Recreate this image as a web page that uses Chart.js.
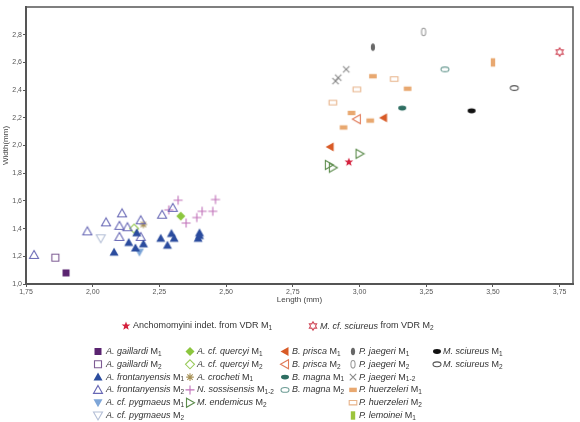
<!DOCTYPE html>
<html>
<head>
<meta charset="utf-8">
<script src="https://cdn.jsdelivr.net/npm/chart.js@4.4.1/dist/chart.umd.min.js"></script>
<style>
  html, body { margin: 0; padding: 0; background: #fff; }
  canvas { display: block; }
</style>
</head>
<body>
<canvas id="chart" width="580" height="422"></canvas>
<script>
// tick labels
const X_TICKS = [1.75, 2.00, 2.25, 2.50, 2.75, 3.00, 3.25, 3.50, 3.75];
const Y_TICKS = [1.0, 1.2, 1.4, 1.6, 1.8, 2.0, 2.2, 2.4, 2.6, 2.8];

// [length, width] in mm
const GAILLARDI_M1 = [[1.90, 1.08]];
const GAILLARDI_M2 = [[1.86, 1.19]];
const FRONTANYENSIS_M1 = [[2.08, 1.23], [2.135, 1.30], [2.16, 1.26], [2.165, 1.37], [2.19, 1.29], [2.255, 1.33],
                          [2.28, 1.28], [2.295, 1.365], [2.305, 1.33], [2.395, 1.33], [2.40, 1.37], [2.40, 1.35]];
const FRONTANYENSIS_M2 = [[1.78, 1.21], [1.98, 1.38], [2.05, 1.445], [2.11, 1.51], [2.10, 1.42], [2.13, 1.41],
                          [2.10, 1.34], [2.18, 1.46], [2.26, 1.50], [2.30, 1.55], [2.18, 1.34]];
const PYGMAEUS_M1 = [[2.175, 1.23]];
const PYGMAEUS_M2 = [[2.03, 1.33]];
const QUERCYI_M1 = [[2.33, 1.49]];
const QUERCYI_M2 = [[2.155, 1.40]];
const CROCHETI_M1 = [[2.19, 1.43]];
const SOSSISENSIS_M12 = [[2.285, 1.535], [2.32, 1.605], [2.35, 1.44], [2.39, 1.48], [2.41, 1.525], [2.45, 1.525], [2.46, 1.61]];
const ENDEMICUS_M2 = [[3.00, 1.94], [2.885, 1.86], [2.90, 1.84]];
const PRISCA_M1 = [[3.09, 2.20], [2.89, 1.99]];
const PRISCA_M2 = [[2.99, 2.19]];
const MAGNA_M1 = [[3.16, 2.27]];
const MAGNA_M2 = [[3.32, 2.55]];
const JAEGERI_M1 = [[3.05, 2.71]];
const JAEGERI_M2 = [[3.24, 2.82]];
const JAEGERI_M12 = [[2.95, 2.55], [2.92, 2.49], [2.91, 2.465]];
const HUERZELERI_M1 = [[3.05, 2.50], [3.18, 2.41], [2.97, 2.235], [3.04, 2.18], [2.94, 2.13]];
const HUERZELERI_M2 = [[3.13, 2.48], [2.99, 2.405], [2.90, 2.31]];
const LEMOINEI_M1 = [[3.50, 2.60]];
const SCIUREUS_M1 = [[3.42, 2.25]];
const SCIUREUS_M2 = [[3.58, 2.415]];
const ANCHOMOMYINI_VDR = [[2.96, 1.88]];
const CF_SCIUREUS_VDR = [[3.75, 2.675]];

const FONT = '"Liberation Sans", Arial, sans-serif';

// label helper: italic taxon, regular tooth, subscript position
function lab(name, tooth, sub) {
  return [{ t: name + ' ', i: true }, { t: tooth }, { t: sub, sub: true }];
}

// legend slots: [column, row]; column -1 = the VDR line on top
const SERIES = [
  { data: ANCHOMOMYINI_VDR, shape: 'star5', color: '#d4203c', fill: true, slot: [-1, 0],
    text: [{ t: 'Anchomomyini indet. from VDR ' }, { t: 'M' }, { t: '1', sub: true }] },
  { data: CF_SCIUREUS_VDR, shape: 'star6', color: '#d04a5a', fill: false, slot: [-1, 1],
    text: [{ t: 'M. cf. sciureus', i: true }, { t: ' from VDR ' }, { t: 'M' }, { t: '2', sub: true }] },
  { data: GAILLARDI_M1, shape: 'square', color: '#5a2470', fill: true, slot: [0, 0], text: lab('A. gaillardi', 'M', '1') },
  { data: GAILLARDI_M2, shape: 'square', color: '#7d5b93', fill: false, slot: [0, 1], text: lab('A. gaillardi', 'M', '2') },
  { data: FRONTANYENSIS_M1, shape: 'triUp', color: '#2b4c9e', fill: true, slot: [0, 2], text: lab('A. frontanyensis', 'M', '1') },
  { data: FRONTANYENSIS_M2, shape: 'triUp', color: '#6767b5', fill: false, slot: [0, 3], text: lab('A. frontanyensis', 'M', '2') },
  { data: PYGMAEUS_M1, shape: 'triDown', color: '#7ea6d8', fill: true, slot: [0, 4], text: lab('A. cf. pygmaeus', 'M', '1') },
  { data: PYGMAEUS_M2, shape: 'triDown', color: '#b4bfd6', fill: false, slot: [0, 5], text: lab('A. cf. pygmaeus', 'M', '2') },
  { data: QUERCYI_M1, shape: 'diamond', color: '#8cc63e', fill: true, slot: [1, 0], text: lab('A. cf. quercyi', 'M', '1') },
  { data: QUERCYI_M2, shape: 'diamond', color: '#9acb5c', fill: false, slot: [1, 1], text: lab('A. cf. quercyi', 'M', '2') },
  { data: CROCHETI_M1, shape: 'asterisk', color: '#a89258', fill: false, slot: [1, 2], text: lab('A. crocheti', 'M', '1') },
  { data: SOSSISENSIS_M12, shape: 'plus', color: '#c070b8', fill: false, slot: [1, 3], text: lab('N. sossisensis', 'M', '1-2') },
  { data: ENDEMICUS_M2, shape: 'triRight', color: '#5c8c4c', fill: false, slot: [1, 4], text: lab('M. endemicus', 'M', '2') },
  { data: PRISCA_M1, shape: 'triLeft', color: '#d85a26', fill: true, slot: [2, 0], text: lab('B. prisca', 'M', '1') },
  { data: PRISCA_M2, shape: 'triLeft', color: '#e07a58', fill: false, slot: [2, 1], text: lab('B. prisca', 'M', '2') },
  { data: MAGNA_M1, shape: 'ellH', color: '#2e6e62', fill: true, slot: [2, 2], text: lab('B. magna', 'M', '1') },
  { data: MAGNA_M2, shape: 'ellH', color: '#6c9c94', fill: false, slot: [2, 3], text: lab('B. magna', 'M', '2') },
  { data: JAEGERI_M1, shape: 'ellV', color: '#686868', fill: true, slot: [3, 0], text: lab('P. jaegeri', 'M', '1') },
  { data: JAEGERI_M2, shape: 'ellV', color: '#9a9a9a', fill: false, slot: [3, 1], text: lab('P. jaegeri', 'M', '2') },
  { data: JAEGERI_M12, shape: 'cross', color: '#8a8a8a', fill: false, slot: [3, 2], text: lab('P. jaegeri', 'M', '1-2') },
  { data: HUERZELERI_M1, shape: 'rectH', color: '#e8a870', fill: true, slot: [3, 3], text: lab('P. huerzeleri', 'M', '1') },
  { data: HUERZELERI_M2, shape: 'rectH', color: '#e8b48a', fill: false, slot: [3, 4], text: lab('P. huerzeleri', 'M', '2') },
  { data: LEMOINEI_M1, shape: 'rectV', color: '#e8a870', legendColor: '#9cc43c', fill: true, slot: [3, 5], text: lab('P. lemoinei', 'M', '1') },
  { data: SCIUREUS_M1, shape: 'ellH', color: '#111111', fill: true, slot: [4, 0], text: lab('M. sciureus', 'M', '1') },
  { data: SCIUREUS_M2, shape: 'ellH', color: '#555555', fill: false, slot: [4, 1], text: lab('M. sciureus', 'M', '2') }
];

function drawMarker(ctx, shape, color, fill, x, y) {
  ctx.save();
  ctx.strokeStyle = color;
  ctx.fillStyle = color;
  ctx.lineWidth = 1.1;
  ctx.beginPath();
  const poly = pts => { ctx.moveTo(x + pts[0][0], y + pts[0][1]); pts.slice(1).forEach(p => ctx.lineTo(x + p[0], y + p[1])); ctx.closePath(); };
  switch (shape) {
    case 'square': ctx.rect(x - 3.5, y - 3.5, 7, 7); break;
    case 'triUp': poly([[0, -4.5], [4.5, 3.5], [-4.5, 3.5]]); break;
    case 'triDown': poly([[0, 4.5], [4.5, -3.5], [-4.5, -3.5]]); break;
    case 'triLeft': poly([[-4.5, 0], [3.5, -4.5], [3.5, 4.5]]); break;
    case 'triRight': poly([[4.5, 0], [-3.5, -4.5], [-3.5, 4.5]]); break;
    case 'diamond': poly([[0, -4.5], [4.5, 0], [0, 4.5], [-4.5, 0]]); break;
    case 'ellH': ctx.ellipse(x, y, 4, 2.4, 0, 0, Math.PI * 2); break;
    case 'ellV': ctx.ellipse(x, y, 2.1, 3.8, 0, 0, Math.PI * 2); break;
    case 'rectH': ctx.rect(x - 3.8, y - 2.2, 7.6, 4.4); break;
    case 'rectV': ctx.rect(x - 2.2, y - 4.2, 4.4, 8.4); break;
    case 'star5': {
      const p = [];
      for (let k = 0; k < 10; k++) {
        const r = k % 2 ? 1.9 : 4.6, a = -Math.PI / 2 + k * Math.PI / 5;
        p.push([r * Math.cos(a), r * Math.sin(a)]);
      }
      poly(p); break;
    }
    case 'star6': {
      const p = [];
      for (let k = 0; k < 12; k++) {
        const r = k % 2 ? 2.5 : 4.2, a = -Math.PI / 2 + k * Math.PI / 6;
        p.push([r * Math.cos(a), r * Math.sin(a)]);
      }
      poly(p); break;
    }
    case 'plus':
      ctx.moveTo(x - 4.5, y); ctx.lineTo(x + 4.5, y); ctx.moveTo(x, y - 4.5); ctx.lineTo(x, y + 4.5); break;
    case 'cross':
      ctx.moveTo(x - 3.2, y - 3.2); ctx.lineTo(x + 3.2, y + 3.2); ctx.moveTo(x + 3.2, y - 3.2); ctx.lineTo(x - 3.2, y + 3.2); break;
    case 'asterisk':
      for (let k = 0; k < 4; k++) {
        const a = k * Math.PI / 4;
        ctx.moveTo(x - 3.8 * Math.cos(a), y - 3.8 * Math.sin(a));
        ctx.lineTo(x + 3.8 * Math.cos(a), y + 3.8 * Math.sin(a));
      }
      break;
  }
  const lineOnly = shape === 'plus' || shape === 'cross' || shape === 'asterisk';
  if (fill && !lineOnly) ctx.fill(); else ctx.stroke();
  ctx.restore();
}

// small canvases used as point styles
function markerCanvas(s) {
  const c = document.createElement('canvas');
  c.width = 12; c.height = 12;
  drawMarker(c.getContext('2d'), s.shape, s.color, s.fill, 6, 6);
  return c;
}

function drawRich(ctx, segs, x, y) {
  segs.forEach(s => {
    ctx.font = (s.i ? 'italic ' : '') + (s.sub ? '6.5px ' : '9px ') + FONT;
    ctx.fillText(s.t, x, y + (s.sub ? 2.5 : 0));
    x += ctx.measureText(s.t).width;
  });
}

const LEG_COLS = [{ m: 98, t: 106 }, { m: 190, t: 197 }, { m: 285, t: 292 }, { m: 353, t: 359 }, { m: 437, t: 443 }];
const LEG_TOP = [{ m: 126, t: 133 }, { m: 313, t: 320 }];

const extras = {
  id: 'extras',
  beforeDatasetsDraw(chart) {
    const { ctx, chartArea: a } = chart;
    ctx.save();
    ctx.strokeStyle = '#555';
    ctx.lineWidth = 1.5;
    ctx.strokeRect(a.left, a.top, a.right - a.left, a.bottom - a.top);
    ctx.restore();
  },
  afterDraw(chart) {
    const ctx = chart.ctx;
    ctx.save();
    ctx.textBaseline = 'middle';
    SERIES.forEach(s => {
      const [col, row] = s.slot;
      let mx, tx, y;
      if (col < 0) { mx = LEG_TOP[row].m; tx = LEG_TOP[row].t; y = 326; }
      else { mx = LEG_COLS[col].m; tx = LEG_COLS[col].t; y = 351.5 + row * 12.8; }
      drawMarker(ctx, s.shape, s.legendColor || s.color, s.fill, mx, y);
      ctx.fillStyle = '#333';
      drawRich(ctx, s.text, tx, y);
    });
    ctx.restore();
  }
};

new Chart(document.getElementById('chart'), {
  type: 'scatter',
  data: {
    datasets: SERIES.map(s => ({
      data: s.data.map(p => ({ x: p[0], y: p[1] })),
      pointStyle: markerCanvas(s),
      pointRadius: 6,
      pointHoverRadius: 6
    }))
  },
  options: {
    responsive: false,
    animation: false,
    events: [],
    layout: { padding: { left: 0, top: 4, right: 6, bottom: 116 } },
    plugins: { legend: { display: false }, tooltip: { enabled: false } },
    scales: {
      x: {
        type: 'linear', min: 1.75, max: 3.8,
        afterBuildTicks: sc => { sc.ticks = X_TICKS.map(v => ({ value: v })); },
        afterFit: sc => { sc.height = 22; },
        grid: { drawOnChartArea: false, tickLength: 3, tickColor: '#555' },
        border: { color: '#555', width: 2 },
        ticks: { font: { size: 7, family: FONT }, color: '#555', padding: 1, maxRotation: 0,
                 callback: v => v.toFixed(2).replace('.', ',') },
        title: { display: true, text: 'Length (mm)', font: { size: 8, family: FONT }, color: '#444', padding: { top: 0, bottom: 1 } }
      },
      y: {
        type: 'linear', min: 1.0, max: 3.0,
        afterBuildTicks: sc => { sc.ticks = Y_TICKS.map(v => ({ value: v })); },
        afterFit: sc => { sc.width = 26; },
        grid: { drawOnChartArea: false, tickLength: 3, tickColor: '#555' },
        border: { color: '#555', width: 2 },
        ticks: { font: { size: 7, family: FONT }, color: '#555', padding: 1,
                 callback: v => v.toFixed(1).replace('.', ',') },
        title: { display: true, text: 'Width(mm)', font: { size: 8, family: FONT }, color: '#444', padding: { top: 1, bottom: 0 } }
      }
    }
  },
  plugins: [extras]
});
</script>
</body>
</html>
